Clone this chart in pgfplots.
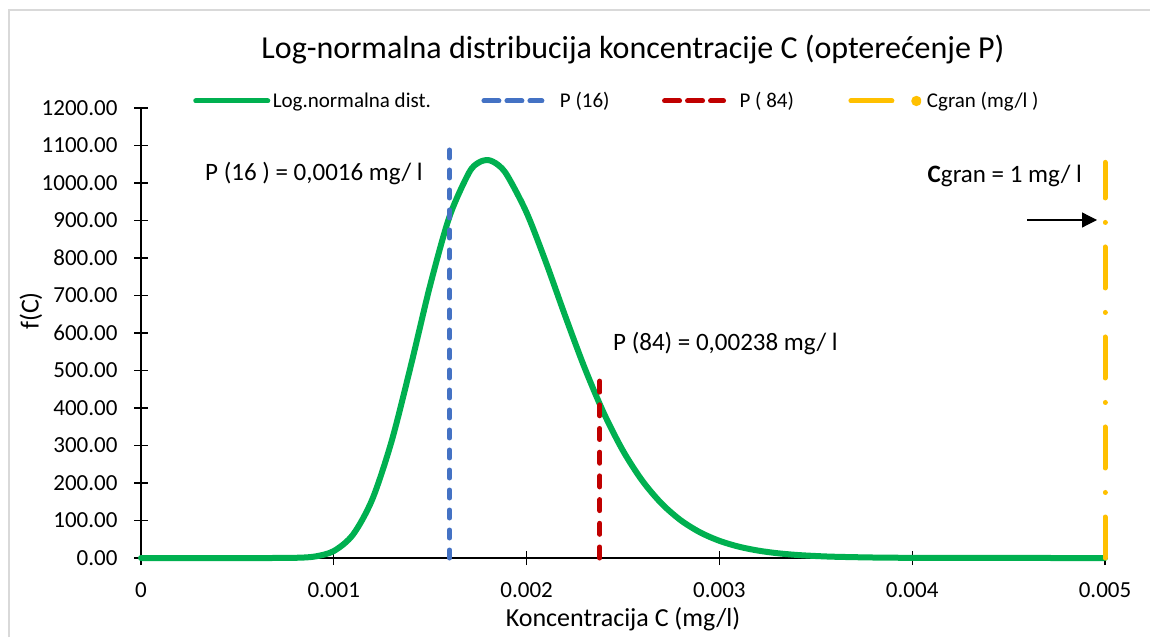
\documentclass[border=0pt]{standalone}
\usepackage{fontspec}
\setmainfont{Carlito}
\usepackage{pgfplots}
\pgfplotsset{compat=1.18}
\usetikzlibrary{arrows.meta}

\definecolor{cgreen}{HTML}{00B050}
\definecolor{cblue}{HTML}{4472C4}
\definecolor{cred}{HTML}{C00000}
\definecolor{cgold}{HTML}{FFC000}
\definecolor{cborder}{HTML}{D9D9D9}

% log-normal density (x in mg/l)
\pgfplotstableread{
x y
0 0
0.0005 0
0.0006 0
0.0007 0.03
0.0008 0.5
0.0009 3.8
0.0010 18.6
0.0011 62.6
0.0012 156.9
0.0013 311.7
0.0014 513.6
0.0015 727.7
0.0016 910.3
0.0017 1026.3
0.00175 1054.0
0.0018 1061.2
0.00185 1049.0
0.0019 1019.7
0.0020 920.9
0.0021 788.9
0.0022 645.7
0.0023 508.3
0.0024 386.9
0.0025 286.0
0.0026 206.1
0.0027 145.2
0.0028 100.4
0.0029 68.3
0.0030 45.8
0.0031 30.3
0.0032 19.8
0.0033 12.8
0.0034 8.2
0.0035 5.3
0.0036 3.3
0.0038 1.3
0.0040 0.5
0.0045 0.05
0.0050 0
}\lognormal

\begin{document}
\begin{tikzpicture}
\useasboundingbox (0pt,0pt) rectangle (1150pt,637pt);
\draw[cborder, line width=2pt] (9pt,0pt) -- (9pt,627pt) -- (1150pt,627pt);

\begin{axis}[
  at={(141pt,79pt)}, anchor=south west,
  scale only axis, width=964pt, height=450pt,
  xmin=0, xmax=0.005, ymin=0, ymax=1200,
  clip=false,
  axis x line=bottom, axis y line=left,
  axis line style={-, line width=1.2pt, black},
  major tick length=14pt, tick align=center,
  tick style={black, line width=1.2pt},
  xtick={0,0.001,0.002,0.003,0.004,0.005},
  xticklabels={0,0.001,0.002,0.003,0.004,0.005},
  scaled x ticks=false,
  ytick={0,100,...,1200},
  ticklabel style={font=\fontsize{23}{27}\selectfont},
  xticklabel style={yshift=-14pt},
  yticklabel style={xshift=-13pt, /pgf/number format/.cd, fixed, fixed zerofill, precision=2, 1000 sep={}},
  /pgf/number format/assume math mode=true,
  xlabel={Koncentracija C (mg/l)},
  ylabel={f(C)},
  label style={font=\fontsize{26}{31}\selectfont},
  xlabel style={at={(axis description cs:0.5,-0.1356)}, anchor=center},
  ylabel style={at={(axis description cs:-0.1141,0.549)}, anchor=center, rotate=0},
  legend columns=4,
  legend style={at={(axis description cs:0.0540,1.0156)}, anchor=west,
    draw=none, fill=none, inner sep=0pt,
    nodes={inner sep=0pt, anchor=west},
    font=\fontsize{21}{25}\selectfont},
]
\addplot[cgreen, line width=6pt, smooth, line cap=round,
  legend image code/.code={\draw[cgreen, line width=5pt] (0pt,0pt) -- (72pt,0pt); \path (74pt,0pt);}]
  table[x=x, y=y] {\lognormal};
\addlegendentry{Log.normalna dist.\rule{48pt}{0pt}}

\addplot[cblue, line width=5pt, line cap=round, dash pattern=on 8pt off 12pt,
  legend image code/.code={\draw[cblue, line width=5pt, line cap=round, dash pattern=on 15pt off 8pt] (2.5pt,0pt) -- (60.5pt,0pt); \path (0pt,0pt) (76pt,0pt);}]
  coordinates {(0.0016,0) (0.0016,1105)};
\addlegendentry{P (16)\rule{50pt}{0pt}}

\addplot[cred, line width=5pt, line cap=round, dash pattern=on 11pt off 12.7pt,
  legend image code/.code={\draw[cred, line width=5pt, line cap=round, dash pattern=on 15pt off 8pt] (2.5pt,0pt) -- (61.5pt,0pt); \path (0pt,0pt) (75pt,0pt);}]
  coordinates {(0.00238,0) (0.00238,485)};
\addlegendentry{P ( 84)\rule{52pt}{0pt}}

\addplot[cgold, line width=5pt, line cap=round, dash pattern=on 41pt off 24.5pt on 0.01pt off 24.5pt,
  legend image code/.code={\draw[cgold, line width=5pt, line cap=round] (2.5pt,0pt) -- (44.5pt,0pt); \fill[cgold] (68pt,0pt) circle (2.5pt); \path (0pt,0pt) (76pt,0pt);}]
  coordinates {(0.005,0) (0.005,1055)};
\addlegendentry{Cgran (mg/l )}
\end{axis}

\node[font=\fontsize{32}{38}\selectfont] at (633pt,587pt) {Log-normalna distribucija koncentracije C (opterećenje P)};
\node[font=\fontsize{25}{30}\selectfont, anchor=base west, inner sep=0pt] at (205pt,456pt) {P (16 ) = 0,0016 mg/ l};
\node[font=\fontsize{25}{30}\selectfont, anchor=base west, inner sep=0pt] at (613pt,286pt) {P (84) = 0,00238 mg/ l};
\node[font=\fontsize{25}{30}\selectfont, anchor=base east, inner sep=0pt] at (1082pt,454pt) {\textbf{C}gran = 1 mg/ l};
\draw[-{Triangle[length=15pt,width=15pt]}, line width=1.2pt] (1027pt,417pt) -- (1097pt,417pt);
\end{tikzpicture}
\end{document}
